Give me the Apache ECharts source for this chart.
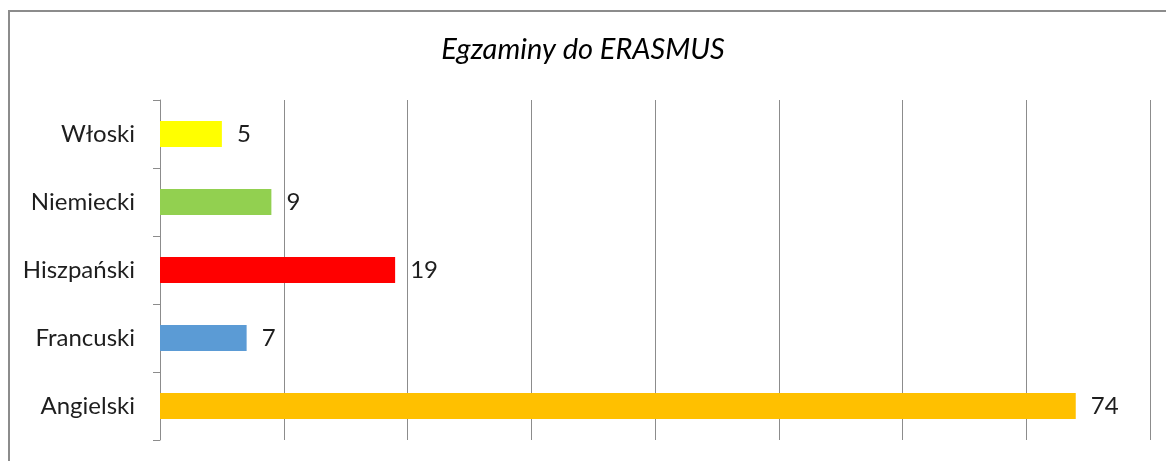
<!DOCTYPE html>
<html>
<head>
<meta charset="utf-8">
<script src="https://cdn.jsdelivr.net/npm/echarts@6/dist/echarts.min.js"></script>
<style>
  html, body { margin: 0; padding: 0; background: #fff; }
  #wrap { position: relative; width: 1166px; height: 461px; overflow: hidden; }
  #frame {
    position: absolute; left: 8px; top: 10px; width: 1200px; height: 500px;
    border-left: 2px solid #8c8c8c; border-top: 2px solid #8c8c8c;
  }
  #chart { position: absolute; left: 0; top: 0; width: 1166px; height: 461px; }
</style>
</head>
<body>
<div id="wrap">
  <div id="frame"></div>
  <div id="chart"></div>
</div>
<script>
// dane z wykresu (od dołu do góry)
var languages = ['Angielski', 'Francuski', 'Hiszpański', 'Niemiecki', 'Włoski'];
var examCounts = [74, 7, 19, 9, 5];
var barColors = ['#FFC000', '#5B9BD5', '#FF0000', '#92D050', '#FFFF00'];
var xTicks = [0, 10, 20, 30, 40, 50, 60, 70, 80];

var chart = echarts.init(document.getElementById('chart'), null, { renderer: 'canvas' });

var font = 'Lato, "Open Sans", sans-serif';

chart.setOption({
  animation: false,
  backgroundColor: 'transparent',
  title: {
    text: 'Egzaminy do ERASMUS',
    left: 'center',
    top: 30,
    textStyle: {
      fontFamily: font,
      fontStyle: 'italic',
      fontWeight: 'normal',
      fontSize: 29,
      color: '#000'
    }
  },
  grid: {
    left: 160,
    right: 16,
    top: 100,
    bottom: 21,
    containLabel: false
  },
  xAxis: {
    type: 'value',
    min: xTicks[0],
    max: xTicks[xTicks.length - 1],
    interval: 10,
    axisLine: { show: false },
    axisTick: { show: false },
    axisLabel: { show: false },
    splitLine: { show: true, lineStyle: { color: '#8c8c8c', width: 1 } }
  },
  yAxis: {
    type: 'category',
    data: languages,
    axisLine: { show: true, lineStyle: { color: '#8c8c8c', width: 1 } },
    axisTick: { show: true, length: 7, lineStyle: { color: '#8c8c8c' } },
    axisLabel: {
      margin: 25,
      fontFamily: font,
      fontSize: 24,
      color: '#1e1e1e'
    }
  },
  series: [{
    type: 'bar',
    data: examCounts.map(function (v, i) {
      return { value: v, itemStyle: { color: barColors[i] } };
    }),
    barWidth: 26,
    label: {
      show: true,
      position: 'right',
      distance: 15,
      fontFamily: font,
      fontSize: 24,
      color: '#1e1e1e'
    }
  }]
});
</script>
</body>
</html>
